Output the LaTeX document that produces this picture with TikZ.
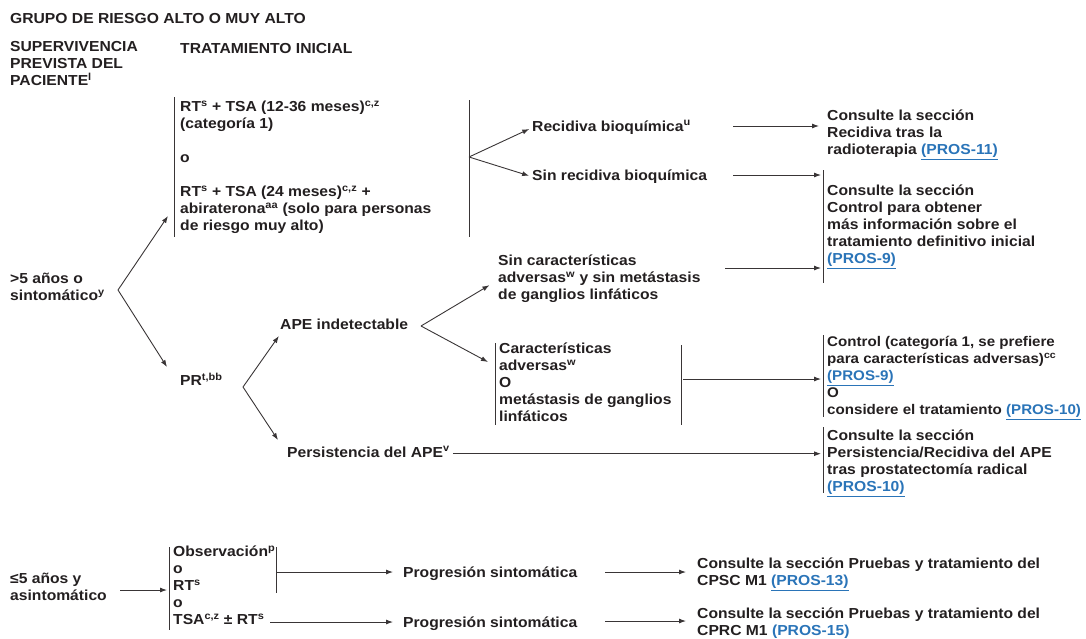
\documentclass[tikz,border=0pt]{standalone}
\usepackage{fontspec}
\setmainfont[FakeStretch=1.08]{Liberation Sans}
\usetikzlibrary{arrows.meta,positioning}
\definecolor{ink}{HTML}{231F20}
\definecolor{linkblue}{HTML}{2A74B8}
\newcommand{\pros}[1]{{\color{linkblue}\underline{(PROS-#1)}}}
\newcommand{\sk}[1]{\textsuperscript{#1}}

\begin{document}
\begin{tikzpicture}[x=1pt,y=-1pt,
  txt/.style={anchor=north west,inner sep=0pt,align=left,text=ink,
    font=\fontsize{14.5}{17}\selectfont\bfseries,
    execute at begin node=\strut},
  bar/.style={draw=ink!90,line width=0.9pt},
  arr/.style={draw=ink!90,line width=0.9pt,-{Latex[length=7pt,width=5pt]}}]
  \useasboundingbox (0,0) rectangle (1086,638);

  % headings
  \node[txt] (title) at (10,11) {GRUPO DE RIESGO ALTO O MUY ALTO};
  \node[txt] (superv) at (10,41) {SUPERVIVENCIA\\PREVISTA DEL\\PACIENTE\sk{l}};
  \node[txt] (trat) at (180,41) {TRATAMIENTO INICIAL};

  % >5 years
  \node[txt] (mayor) at (10,273) {>5 años o\\sintomático\sk{y}};
  \node[txt] (rt) at (180,101) {RT\sk{s} + TSA (12-36 meses)\sk{c,z}\\(categoría 1)\\[17pt]o\\[17pt]RT\sk{s} + TSA (24 meses)\sk{c,z} +\\abiraterona\sk{aa} (solo para personas\\de riesgo muy alto)};
  \node[txt] (rec) at (532,119) {Recidiva bioquímica\sk{u}};
  \node[txt] (srec) at (532,168) {Sin recidiva bioquímica};
  \node[txt] (cons1) at (827,110) {Consulte la sección\\Recidiva tras la\\radioterapia \pros{11}};
  \node[txt] (cons2) at (827,185) {Consulte la sección\\Control para obtener\\más información sobre el\\tratamiento definitivo inicial\\\pros{9}};
  \node[txt] (pr) at (180,373) {PR\sk{t,bb}};
  \node[txt] (ape) at (280,317) {APE indetectable};
  \node[txt] (pers) at (287,445) {Persistencia del APE\sk{v}};
  \node[txt] (sinc) at (498,255) {Sin características\\adversas\sk{w} y sin metástasis\\de ganglios linfáticos};
  \node[txt] (cara) at (499,343) {Características\\adversas\sk{w}\\O\\metástasis de ganglios\\linfáticos};
  \node[txt,font=\fontsize{14}{17}\selectfont\bfseries] (ctrl) at (827,336) {Control (categoría 1, se prefiere\\para características adversas)\sk{cc}\\\pros{9}\\O\\considere el tratamiento \pros{10}};
  \node[txt] (cons3) at (827,430) {Consulte la sección\\Persistencia/Recidiva del APE\\tras prostatectomía radical\\\pros{10}};

  % <=5 years
  \node[txt] (menor) at (10,573) {≤5 años y\\asintomático};
  \node[txt] (obs) at (173,546) {Observación\sk{p}\\o\\RT\sk{s}\\o\\TSA\sk{c,z} ± RT\sk{s}};
  \node[txt] (prog1) at (403,565) {Progresión sintomática};
  \node[txt] (prog2) at (403,615) {Progresión sintomática};
  \node[txt] (cons4) at (697,558) {Consulte la sección Pruebas y tratamiento del\\CPSC M1 \pros{13}};
  \node[txt] (cons5) at (697,608) {Consulte la sección Pruebas y tratamiento del\\CPRC M1 \pros{15}};

  % bars
  \draw[bar] (174,97) -- (174,237);
  \draw[bar] (469,100) -- (469,237);
  \draw[bar] (823,170) -- (823,283);
  \draw[bar] (495,343) -- (495,425);
  \draw[bar] (681,345) -- (681,425);
  \draw[bar] (823,335) -- (823,417);
  \draw[bar] (823,427) -- (823,493);
  \draw[bar] (169,547) -- (169,630);
  \draw[bar] (276,547) -- (276,593);

  % branch points and free ends
  \coordinate (b1) at (118,290);
  \coordinate (b2) at (243,387);
  \coordinate (b3) at (421,326);
  \coordinate (b4) at (469,157);
  \coordinate (rtin) at (168,216);
  \coordinate (prin) at (167,367);
  \coordinate (persin) at (278,440);
  \coordinate (carain) at (488,362);
  \coordinate (r1) at (733,126);
  \coordinate (r2) at (733,175);
  \coordinate (r3) at (725,268);
  \coordinate (r4) at (683,379);
  \coordinate (m1) at (120,590);
  \coordinate (o1) at (276,572);
  \coordinate (o2) at (270,622);
  \coordinate (p1) at (605,572);
  \coordinate (p2) at (605,621);

  \draw[arr] (b1) -- (rtin);
  \draw[arr] (b1) -- (prin);
  \draw[arr,shorten >=3pt] (b4) -- (rec.west);
  \draw[arr,shorten >=3pt] (b4) -- (srec.west);
  \draw[arr,shorten >=8pt] (r1) -- (r1 -| cons1.west);
  \draw[arr,shorten >=6pt] (r2) -- (r2 -| cons2.west);
  \draw[arr,shorten >=6pt] (r3) -- (r3 -| cons2.west);
  \draw[arr,shorten >=2pt] (b2) -- (ape.south west);
  \draw[arr] (b2) -- (persin);
  \draw[arr,shorten >=10pt] (b3) -- (sinc.west);
  \draw[arr] (b3) -- (carain);
  \draw[arr,shorten >=6pt] (r4) -- (r4 -| ctrl.west);
  \draw[arr,shorten <=3pt,shorten >=6pt] (pers.east) -- (pers.east -| cons3.west);
  \draw[arr,shorten >=6pt] (m1) -- (m1 -| obs.west);
  \draw[arr,shorten >=10pt] (o1) -- (o1 -| prog1.west);
  \draw[arr,shorten >=10pt] (o2) -- (o2 -| prog2.west);
  \draw[arr,shorten >=11pt] (p1) -- (p1 -| cons4.west);
  \draw[arr,shorten >=11pt] (p2) -- (p2 -| cons5.west);
\end{tikzpicture}
\end{document}
